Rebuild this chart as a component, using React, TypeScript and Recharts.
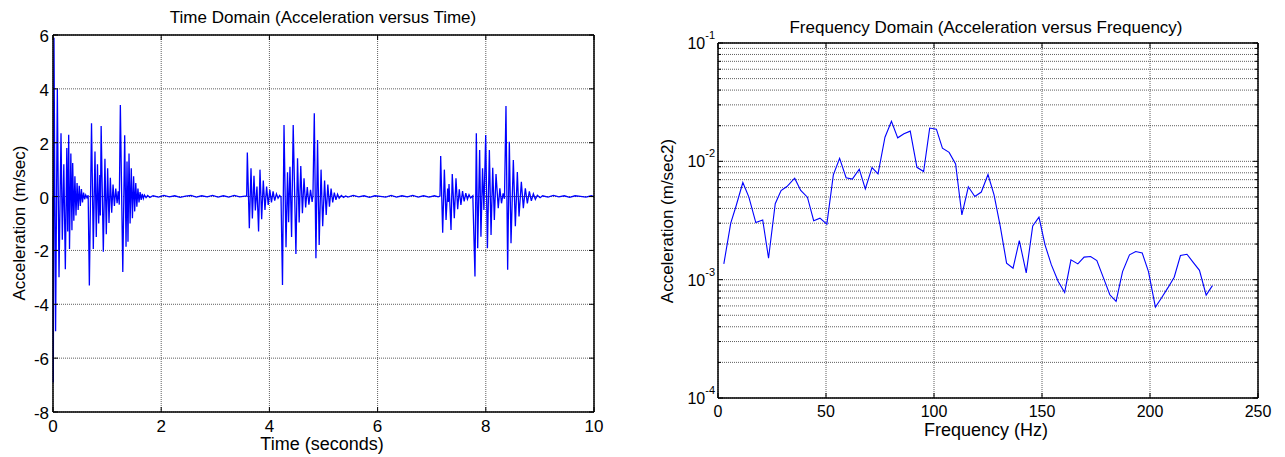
import React from 'react';
import { LineChart, Line, XAxis, YAxis, CartesianGrid, ReferenceLine } from 'recharts';

const FONT = '"Liberation Sans", Arial, Helvetica, sans-serif';

// time domain, [seconds, m/sec]
const burstOne: [number, number][] = [
  [0, 0], [0.006, -6.9], [0.018, 5.9], [0.048, -5.0], [0.08, 4.0], [0.111, -3.0], [0.148, 2.35],
  [0.172, -1.6], [0.2, 1.2], [0.228, -2.7], [0.255, 1.8], [0.272, -1.3], [0.29, 2.3], [0.305, -1.95],
  [0.33, 1.6], [0.35, -1.25], [0.364, 1.25], [0.385, -0.9], [0.405, 0.75], [0.425, -0.7], [0.445, 0.5],
  [0.465, -0.5], [0.485, 0.4], [0.505, -0.35], [0.525, 0.28], [0.545, -0.22], [0.565, 0.15],
  [0.585, -0.1], [0.605, 0.06], [0.628, -0.04], [0.65, 0.05],
  [0.672, -3.3], [0.712, 2.72], [0.745, -1.95], [0.776, 1.67], [0.8, -1.5], [0.822, 1.2], [0.845, -1.0],
  [0.865, 0.8], [0.875, -0.7], [0.89, 2.62], [0.93, -2.05], [0.96, 1.4], [0.985, -1.4], [1.01, 1.05],
  [1.035, -0.98], [1.06, 0.7], [1.085, -0.6], [1.11, 0.45], [1.135, -0.35], [1.16, 0.3], [1.185, -0.25],
  [1.205, 0.2], [1.225, -0.3],
  [1.245, 3.4], [1.29, -2.8], [1.325, 2.28], [1.35, -1.86], [1.368, 1.3], [1.386, -1.68], [1.405, 1.6],
  [1.425, -1.0], [1.447, 1.05], [1.468, -0.8], [1.49, 0.75], [1.51, -0.55], [1.53, 0.5], [1.55, -0.38],
  [1.57, 0.3], [1.59, -0.22], [1.61, 0.17], [1.63, -0.12], [1.65, 0.1], [1.67, -0.07], [1.69, 0.06],
  [1.72, -0.04], [1.75, 0.04], [1.79, -0.03],
];

const quietOne: [number, number][] = [
  [1.85, 0.03], [1.95, -0.02], [2.05, 0.04], [2.15, -0.01], [2.25, 0.03], [2.35, -0.03], [2.45, 0.02],
  [2.55, 0.04], [2.65, -0.02], [2.75, 0.03], [2.85, -0.01], [2.95, 0.04], [3.05, -0.02], [3.15, 0.03],
  [3.25, -0.02], [3.35, 0.04], [3.45, -0.01], [3.55, 0.02],
];

const burstTwo: [number, number][] = [
  [3.58, 0.02], [3.592, 1.64], [3.629, -1.18], [3.66, 1.05], [3.685, -0.81], [3.715, 0.77], [3.74, -0.52],
  [3.77, 0.37], [3.8, -1.3], [3.826, 1.0], [3.857, -0.84], [3.887, 0.6], [3.918, -0.5], [3.948, 0.37],
  [3.978, -0.31], [4.008, 0.25], [4.038, -0.22], [4.068, 0.19], [4.098, -0.15], [4.13, 0.1],
  [4.16, -0.06], [4.19, 0.04], [4.215, -0.03],
  [4.242, -3.28], [4.27, 2.66], [4.307, -1.88], [4.335, 0.9], [4.355, -0.95], [4.38, 1.11], [4.41, -1.5],
  [4.44, 2.66], [4.49, -2.13], [4.52, 1.42], [4.55, -0.96], [4.58, 1.13], [4.61, -0.62], [4.64, 0.68],
  [4.67, -0.4], [4.7, 0.35], [4.73, -0.3], [4.76, 0.25], [4.79, -0.2], [4.805, 0.05],
  [4.83, 3.09], [4.86, -2.29], [4.89, 2.1], [4.92, -1.8], [4.955, 1.0], [4.985, -1.1], [5.02, 0.6],
  [5.05, -0.68], [5.08, 0.45], [5.11, -0.38], [5.14, 0.3], [5.17, -0.22], [5.2, 0.15], [5.23, -0.12],
  [5.26, 0.09], [5.29, -0.06], [5.33, 0.04], [5.37, -0.03], [5.41, 0.02],
];

const quietTwo: [number, number][] = [
  [5.45, -0.02], [5.55, 0.04], [5.65, -0.01], [5.75, 0.03], [5.85, -0.03], [5.95, 0.03], [6.05, 0.01],
  [6.15, -0.02], [6.25, 0.04], [6.35, -0.02], [6.45, 0.03], [6.55, -0.01], [6.65, 0.04], [6.75, -0.02],
  [6.85, 0.03], [6.95, -0.02], [7.05, 0.03], [7.12, -0.01],
];

const burstThree: [number, number][] = [
  [7.153, 0.02], [7.166, 1.51], [7.203, -1.34], [7.234, 1.0], [7.265, -0.87], [7.295, 0.3], [7.308, -0.2],
  [7.32, 0.47], [7.357, -1.24], [7.38, 0.84], [7.418, -0.8], [7.449, 0.68], [7.48, -0.47], [7.51, 0.27],
  [7.54, -0.31], [7.57, 0.2], [7.6, -0.18], [7.63, 0.13], [7.66, -0.1], [7.69, 0.07], [7.72, -0.05],
  [7.76, 0.03],
  [7.8, -2.97], [7.825, 2.35], [7.85, -1.92], [7.886, 1.73], [7.91, -1.49], [7.94, 1.05], [7.965, -0.5],
  [7.998, 2.29], [8.03, -1.92], [8.066, 1.73], [8.097, -1.43], [8.128, 1.07], [8.158, -0.87],
  [8.189, 0.84], [8.23, -0.43], [8.26, 0.31], [8.29, -0.25], [8.32, 0.12], [8.345, -0.08],
  [8.373, 3.36], [8.404, -2.72], [8.435, 2.04], [8.466, -1.73], [8.509, 1.36], [8.546, -1.1],
  [8.583, 0.91], [8.614, -0.74], [8.657, 0.55], [8.694, -0.43], [8.731, 0.31], [8.768, -0.25],
  [8.805, 0.19], [8.842, -0.16], [8.879, 0.1], [8.916, -0.1], [8.953, 0.05], [9.003, -0.04],
];

const quietThree: [number, number][] = [
  [9.05, 0.03], [9.15, -0.02], [9.25, 0.04], [9.35, -0.01], [9.45, 0.03], [9.55, -0.03], [9.65, 0.03],
  [9.75, 0.01], [9.85, -0.02], [9.95, 0.03], [10, 0],
];

const timeTicks = [0, 2, 4, 6, 8, 10];
const accelTicks = [-8, -6, -4, -2, 0, 2, 4, 6];

// frequency domain
const freqHz = [
  2.7, 5.9, 8.3, 11.5, 14.3, 17.5, 20.7, 23.4, 26.5, 29.2, 31.9, 35.5, 38.3, 41.4, 44.3, 47.2, 50.4,
  53.4, 56.3, 59.3, 62.2, 65.4, 68.2, 71.3, 74.1, 77.3, 80.3, 83.2, 86.1, 89.0, 92.1, 95.2, 98.0,
  101.1, 103.9, 107.0, 110.0, 112.9, 115.9, 118.9, 121.9, 125.0, 127.8, 130.7, 133.6, 136.6, 139.5,
  142.7, 145.7, 148.6, 151.4, 154.3, 157.5, 160.5, 163.4, 166.6, 169.5, 172.5, 175.4, 178.5, 181.4,
  184.3, 187.3, 190.5, 193.4, 196.4, 199.3, 202.5, 205.3, 208.4, 211.2, 214.1, 217.1, 220.0, 222.9,
  226.0, 228.9,
];
const freqAccel = [
  0.00136, 0.003, 0.00415, 0.00662, 0.00498, 0.00304, 0.0032, 0.00152, 0.00438, 0.00567, 0.00612,
  0.00721, 0.00567, 0.00498, 0.00315, 0.00331, 0.00295, 0.00769, 0.0106, 0.00726, 0.00708, 0.00859,
  0.00586, 0.00887, 0.00784, 0.016, 0.0218, 0.0158, 0.0171, 0.018, 0.0089, 0.0082, 0.0191, 0.0187,
  0.0129, 0.0119, 0.0095, 0.00353, 0.00609, 0.00504, 0.0055, 0.00774, 0.00521, 0.00281, 0.00138,
  0.00125, 0.00214, 0.00114, 0.00285, 0.00338, 0.00197, 0.00134, 0.000966, 0.00078, 0.00147, 0.00136,
  0.00155, 0.00157, 0.00145, 0.00103, 0.000745, 0.000655, 0.00117, 0.00162, 0.00173, 0.00168,
  0.00117, 0.000587, 0.0007, 0.00086, 0.00105, 0.0016, 0.00164, 0.0014, 0.0012, 0.00074, 0.00089,
];
const freqTicks = [0, 50, 100, 150, 200, 250];
const decades = [0.0001, 0.001, 0.01, 0.1];
const decadeExp = ['-4', '-3', '-2', '-1'];
const logTicks = [
  ...decades.slice(0, 3).flatMap((d) => [1, 2, 3, 4, 5, 6, 7, 8, 9].map((m) => m * d)),
  0.1,
];

const timeData = [...burstOne, ...quietOne, ...burstTwo, ...quietTwo, ...burstThree, ...quietThree].map(
  ([t, a]) => ({ t, a })
);
const freqData = freqHz.map((f, i) => ({ f, a: freqAccel[i] }));

// plot boxes (chart-local px)
const L = { w: 620, left: 53, right: 594, top: 35, bottom: 412 };
const R = { w: 645, left: 78, right: 618, top: 43, bottom: 398 };

const gridStyle = { stroke: '#2a2a2a', strokeDasharray: '1 1', strokeOpacity: 0.75 };
const axisLine = { stroke: '#000', strokeWidth: 1.5 };

const TimeTick = ({ x, y, payload }: any) => (
  <g>
    <line x1={x} y1={y} x2={x} y2={y - 5} stroke="#000" />
    <line x1={x} y1={L.top} x2={x} y2={L.top + 5} stroke="#000" />
    <text x={x} y={y + 20} textAnchor="middle" fontSize={17} fontFamily={FONT} fill="#000">
      {payload.value}
    </text>
  </g>
);

const AccelTick = ({ x, y, payload }: any) => (
  <g>
    <line x1={x} y1={y} x2={x + 5} y2={y} stroke="#000" />
    <line x1={L.right} y1={y} x2={L.right - 5} y2={y} stroke="#000" />
    <text x={x - 4} y={y + 7} textAnchor="end" fontSize={17} fontFamily={FONT} fill="#000">
      {payload.value}
    </text>
  </g>
);

const FreqTick = ({ x, y, payload }: any) => (
  <g>
    <line x1={x} y1={y} x2={x} y2={y - 5} stroke="#000" />
    <line x1={x} y1={R.top} x2={x} y2={R.top + 5} stroke="#000" />
    <text x={x} y={y + 19} textAnchor="middle" fontSize={16} fontFamily={FONT} fill="#000">
      {payload.value}
    </text>
  </g>
);

const LogTick = ({ x, y, payload }: any) => {
  const idx = decades.findIndex((d) => Math.abs(d - payload.value) < d * 1e-6);
  const len = idx >= 0 ? 5 : 3;
  return (
    <g>
      <line x1={x} y1={y} x2={x + len} y2={y} stroke="#000" />
      <line x1={R.right} y1={y} x2={R.right - len} y2={y} stroke="#000" />
      {idx >= 0 && (
        <text x={x - 3} y={y + 6} textAnchor="end" fontSize={16} fontFamily={FONT} fill="#000">
          10
          <tspan dy={-10} fontSize={11}>
            {decadeExp[idx]}
          </tspan>
        </text>
      )}
    </g>
  );
};

const TimeChart = () => (
  <LineChart
    width={L.w}
    height={457}
    data={timeData}
    margin={{ top: L.top, right: L.w - L.right, bottom: 0, left: 0 }}
  >
    <CartesianGrid {...gridStyle} />
    <XAxis
      dataKey="t"
      type="number"
      domain={[0, 10]}
      ticks={timeTicks}
      interval={0}
      height={457 - L.bottom}
      tickSize={0}
      tickMargin={0}
      axisLine={axisLine}
      tick={TimeTick}
    />
    <YAxis
      type="number"
      domain={[-8, 6]}
      ticks={accelTicks}
      interval={0}
      width={L.left}
      tickSize={0}
      tickMargin={0}
      axisLine={axisLine}
      tick={AccelTick}
      allowDataOverflow
    />
    <Line type="linear" dataKey="a" stroke="#0000ff" strokeWidth={1.3} dot={false} isAnimationActive={false} />
    <ReferenceLine y={6} stroke="#000" strokeWidth={1.5} />
    <ReferenceLine x={10} stroke="#000" strokeWidth={1.5} />
  </LineChart>
);

const FreqChart = () => (
  <LineChart
    width={R.w}
    height={457}
    data={freqData}
    margin={{ top: R.top, right: R.w - R.right, bottom: 0, left: 0 }}
  >
    <CartesianGrid {...gridStyle} />
    <XAxis
      dataKey="f"
      type="number"
      domain={[0, 250]}
      ticks={freqTicks}
      interval={0}
      height={457 - R.bottom}
      tickSize={0}
      tickMargin={0}
      axisLine={axisLine}
      tick={FreqTick}
    />
    <YAxis
      type="number"
      scale="log"
      domain={[0.0001, 0.1]}
      ticks={logTicks}
      interval={0}
      width={R.left}
      tickSize={0}
      tickMargin={0}
      axisLine={axisLine}
      tick={LogTick}
      allowDataOverflow
    />
    <Line type="linear" dataKey="a" stroke="#0000ff" strokeWidth={1.1} dot={false} isAnimationActive={false} />
    <ReferenceLine y={0.1} stroke="#000" strokeWidth={1.5} />
    <ReferenceLine x={250} stroke="#000" strokeWidth={1.5} />
  </LineChart>
);

export default function App() {
  return (
    <div style={{ position: 'absolute', left: 0, top: 0, width: 1285, height: 457, background: '#fff' }}>
      <div style={{ position: 'absolute', left: 0, top: 0 }}>
        <TimeChart />
      </div>
      <div style={{ position: 'absolute', left: 640, top: 0 }}>
        <FreqChart />
      </div>
      <svg
        width={1285}
        height={457}
        style={{ position: 'absolute', left: 0, top: 0, pointerEvents: 'none' }}
        fontFamily={FONT}
        fill="#000"
      >
        <text x={323} y={23} textAnchor="middle" fontSize={17}>
          Time Domain (Acceleration versus Time)
        </text>
        <text x={322} y={450} textAnchor="middle" fontSize={18}>
          Time (seconds)
        </text>
        <text x={25} y={223} textAnchor="middle" fontSize={17} transform="rotate(-90 25 223)">
          Acceleration (m/sec)
        </text>
        <text x={986} y={33} textAnchor="middle" fontSize={17}>
          Frequency Domain (Acceleration versus Frequency)
        </text>
        <text x={986} y={436} textAnchor="middle" fontSize={18}>
          Frequency (Hz)
        </text>
        <text x={673} y={221} textAnchor="middle" fontSize={17} transform="rotate(-90 673 221)">
          Acceleration (m/sec2)
        </text>
      </svg>
    </div>
  );
}
